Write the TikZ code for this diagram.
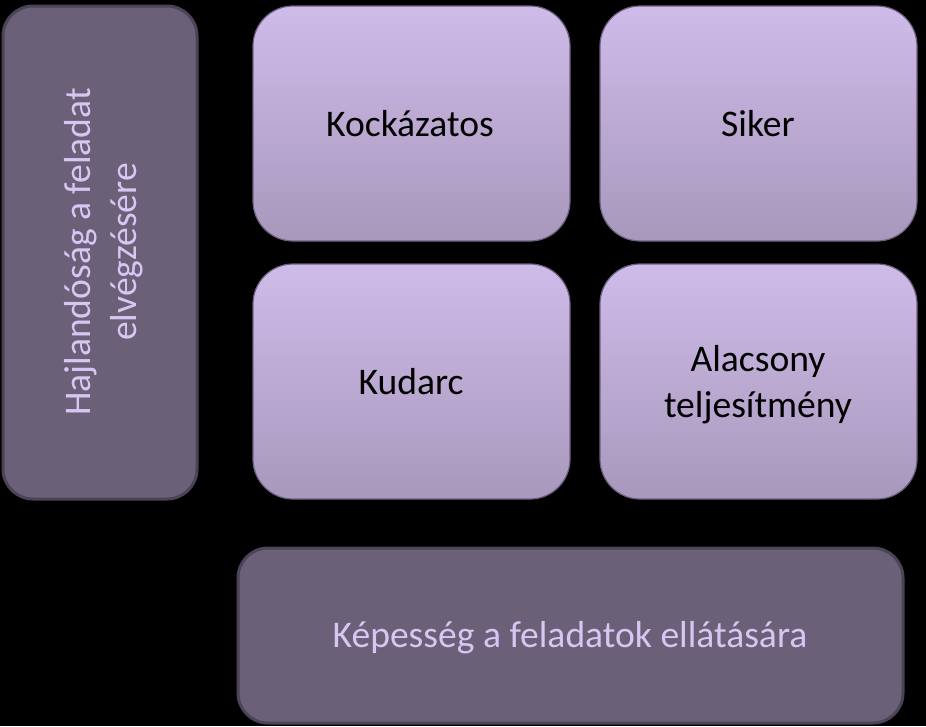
\documentclass[tikz,border=0pt]{standalone}
\usepackage{fontspec}
\setmainfont{Carlito}
\definecolor{lighttop}{HTML}{CFBBE9}
\definecolor{lightbot}{HTML}{A898BC}
\definecolor{lightedge}{HTML}{6E6080}
\definecolor{darkfill}{HTML}{6A6078}
\definecolor{darkedge}{HTML}{4C4456}
\definecolor{darktext}{HTML}{D7C5F2}
\tikzset{
  lightbox/.style={draw=lightedge, line width=1.2pt, rounded corners=40pt, top color=lighttop, bottom color=lightbot},
  darkbox/.style={draw=darkedge, line width=3pt, rounded corners=30pt, fill=darkfill},
  lbl/.style={font=\fontsize{37.6}{46}\selectfont, align=center, text=black},
  dlbl/.style={font=\fontsize{37.6}{46}\selectfont, align=center, text=darktext},
}
\begin{document}
\begin{tikzpicture}[x=1pt,y=-1pt]
\fill[black] (0,0) rectangle (926,726);
\useasboundingbox (0,0) rectangle (926,726);
% left vertical box
\draw[darkbox] (3,6) rectangle (197,499);
\node[dlbl, rotate=90] (hajl) at (104,252) {Hajlandóság a feladat\\elvégzésére};
% grid boxes
\draw[lightbox] (253,6) rectangle (570,241);
\node[lbl] (kock) at (410,124) {Kockázatos};
\draw[lightbox] (600,6) rectangle (917,241);
\node[lbl] (siker) at (758,124) {Siker};
\draw[lightbox] (253,264) rectangle (570,499);
\node[lbl] (kud) at (411,382) {Kudarc};
\draw[lightbox] (600,264) rectangle (917,499);
\node[lbl] (alacs) at (758,385) {Alacsony\\teljesítmény};
% bottom box
\draw[darkbox] (238,548) rectangle (903,723);
\node[dlbl] (kep) at (570,638) {Képesség a feladatok ellátására};
\end{tikzpicture}
\end{document}
